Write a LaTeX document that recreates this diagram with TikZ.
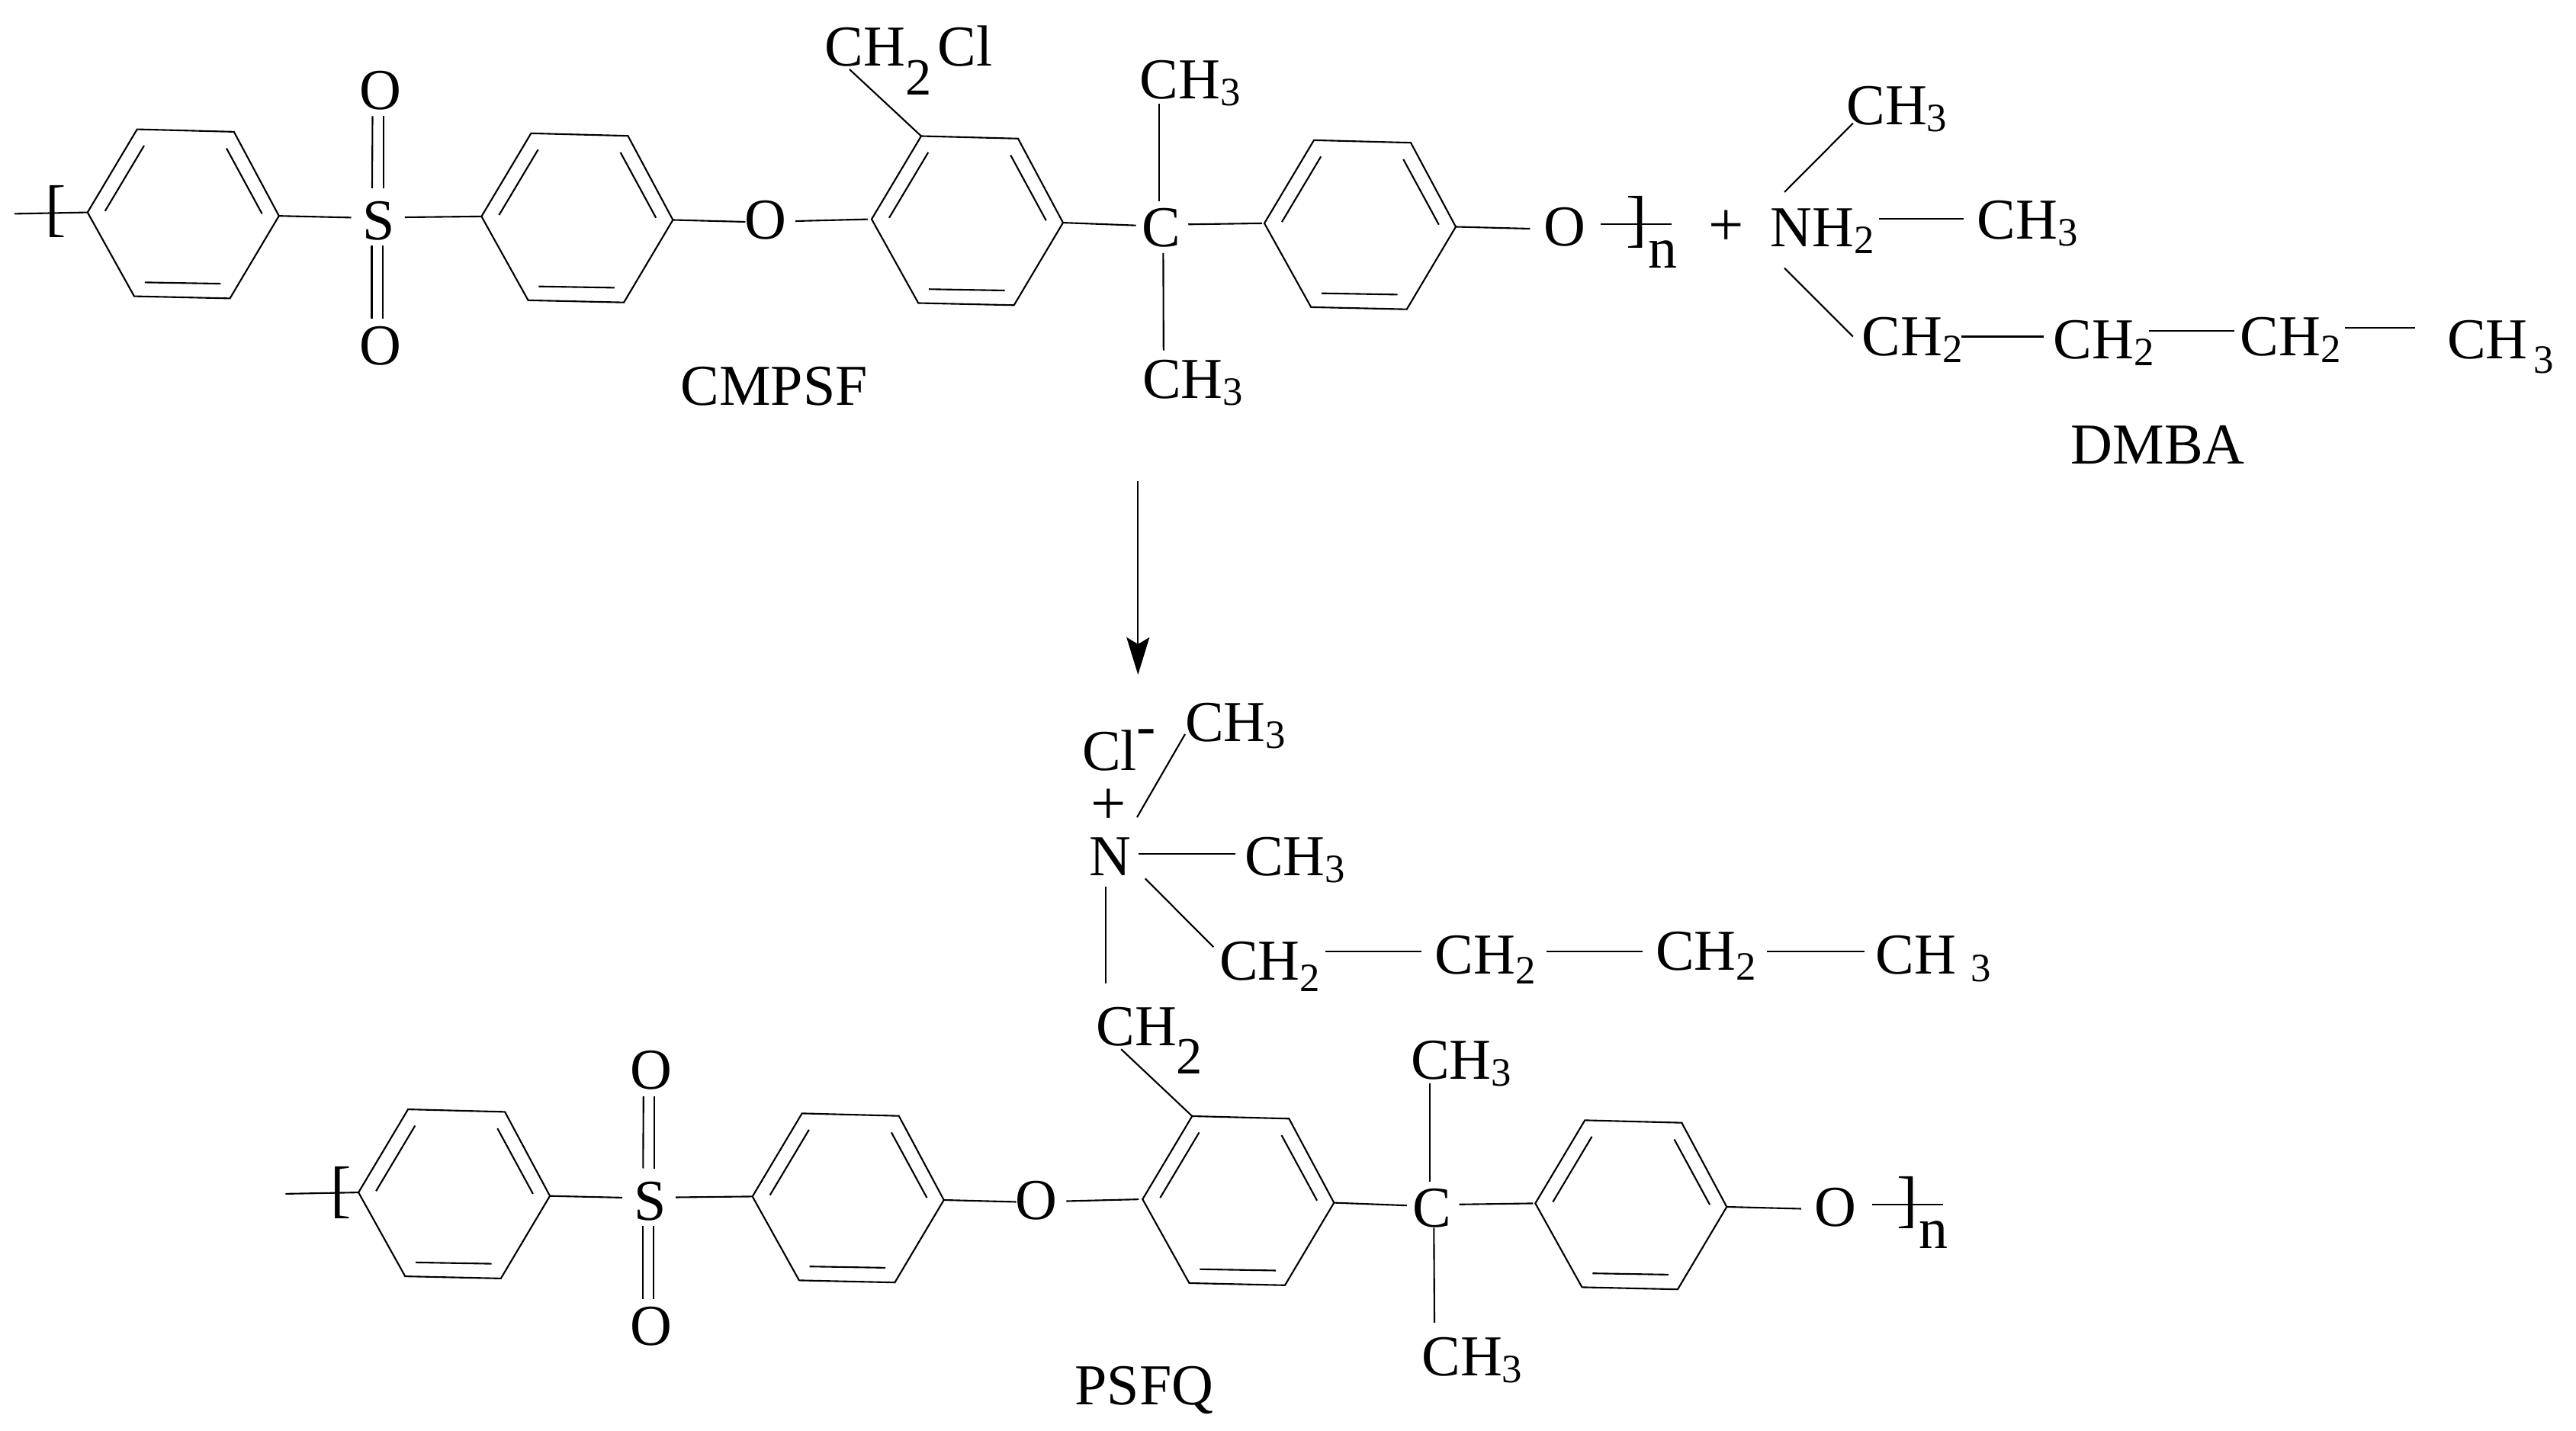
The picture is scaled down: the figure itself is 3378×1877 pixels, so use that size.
\documentclass[tikz,border=0pt]{standalone}
\usepackage{fontspec}
\setmainfont{Liberation Serif}
\usetikzlibrary{arrows.meta}

\tikzset{
  bond/.style={line width=0.6pt},
  atom/.style={inner sep=0pt,anchor=base,font=\fontsize{21.6}{26}\selectfont},
  group/.style={atom,anchor=base west},
  fence/.style={atom,font=\fontsize{23.4}{28}\selectfont},
}
\newcommand{\sbs}[2][-0.09cm]{\raisebox{#1}{\fontsize{15}{15}\selectfont #2}}
\newcommand{\sbl}[2][-0.38cm]{\raisebox{#1}{\fontsize{19.5}{20}\selectfont #2}}

\newcommand{\benzene}[3]{
\begin{scope}[shift={(#2,#3)}]
\coordinate (#1-w) at (0,0);
\coordinate (#1-nw) at (65,-109);
\coordinate (#1-ne) at (192,-105.7);
\coordinate (#1-e) at (251,4.6);
\coordinate (#1-se) at (186.7,112.8);
\coordinate (#1-sw) at (61.2,110);
\draw[bond] (#1-w)--(#1-nw)--(#1-ne)--(#1-e)--(#1-se)--(#1-sw)--cycle;
\draw[bond] (23,-1.8)--(74.2,-87.6);
\draw[bond] (182.2,-84)--(228.8,1.8);
\draw[bond] (75,91.8)--(174.5,93.5);
\end{scope}
}

\begin{document}
\begin{tikzpicture}[x=0.01cm,y=-0.01cm]
\useasboundingbox (0,0) rectangle (3378,1877);

% the two polymer backbones
\foreach \pre/\sx/\sy in {t/0/0,b/355.3/1285.5}{
\begin{scope}[shift={(\sx,\sy)}]
\benzene{\pre-a}{114.8}{278.6}
\benzene{\pre-b}{631.4}{283.9}
\benzene{\pre-c}{1143}{287.5}
\benzene{\pre-d}{1658}{292.9}

\coordinate (\pre-lead) at (19,280.4);

\node[atom] (\pre-S) at (497,315) {S};
\node[atom] (\pre-Oa) at (498.5,143.5) {O};
\node[atom] (\pre-Ob) at (498.5,479) {O};
\node[atom] (\pre-Oc) at (1004,314) {O};
\node[atom] (\pre-C) at (1523,324) {C};
\node[atom] (\pre-Od) at (2051.6,323) {O};
\node[fence] (\pre-rb) at (2146,315) {]};
\node[atom] (\pre-n) at (2180,352) {n};
\node[group] (\pre-Mu) at (1494,130) {CH\sbs{3}};

\draw[bond] (\pre-lead)--(\pre-a-w);
\draw[bond] (\pre-a-e)--([shift={(-14.5,-29.6)}]\pre-S.base west);
\draw[bond] ([shift={(12,-30)}]\pre-S.base east)--(\pre-b-w);
\draw[bond] (\pre-b-e)--([shift={(1.5,-23)}]\pre-Oc.base west);
\draw[bond,shorten >=0.05cm] ([shift={(11,-24)}]\pre-Oc.base east)--(\pre-c-w);
\draw[bond] (\pre-c-e)--([shift={(-7.3,-28.3)}]\pre-C.base west);
\draw[bond,shorten >=0.03cm] ([shift={(9.2,-29.7)}]\pre-C.base east)--(\pre-d-w);
\draw[bond] (\pre-d-e)--([shift={(-17,-23)}]\pre-Od.base west);
\draw[bond] ([shift={(19.7,-28.7)}]\pre-Od.base east)--([shift={(32,-20.7)}]\pre-rb.base east);

\draw[bond] ([shift={(-10,9)}]\pre-Oa.base)--([shift={(-9,-68)}]\pre-S.base);
\draw[bond] ([shift={(4.5,9)}]\pre-Oa.base)--([shift={(6,-68)}]\pre-S.base);
\draw[bond] ([shift={(-9.5,7.5)}]\pre-S.base)--([shift={(-11,-60.5)}]\pre-Ob.base);
\draw[bond] ([shift={(5,7.5)}]\pre-S.base)--([shift={(3.5,-60.5)}]\pre-Ob.base);

\draw[bond] ([shift={(-3,-60)}]\pre-C.base)--([shift={(26,6)}]\pre-Mu.base west);
\end{scope}
}

% top structure
\node[fence] (t-lb) at (73,301) {[};
\node[group] (t-Ml) at (1497.4,523) {CH\sbs{3}};
\node[group] (t-CCl) at (1081,86.5) {CH\sbl{2}\kern0.08cm Cl};
\node[group] (t-name) at (892,532) {CMPSF};
\node[fence] (plus) at (2264,323) {+};

\draw[bond] ([shift={(2.4,8)}]t-C.base)--([shift={(28.4,-63.4)}]t-Ml.base west);
\draw[bond] ([shift={(33,4.5)}]t-CCl.base west)--(t-c-nw);

% amine
\node[group] (dm-N) at (2321,323.6) {NH\sbs{2}};
\node[group] (dm-Ma) at (2420.7,163.5) {CH\sbs{3}};
\node[group] (dm-Mb) at (2592,314) {CH\sbs{3}};
\node[group] (dm-Ca) at (2440.8,467) {CH\sbs{2}};
\node[group] (dm-Cb) at (2692,471) {CH\sbs{2}};
\node[group] (dm-Cc) at (2937,467) {CH\sbs{2}};
\node[group] (dm-Me) at (3208.4,471) {CH\kern0.08cm\sbs[-0.19cm]{3}};
\node[group] (dm-name) at (2715,608.5) {DMBA};

\draw[bond] ([shift={(19,-71.6)}]dm-N.base west)--([shift={(9.2,-1.8)}]dm-Ma.base west);
\draw[bond] ([shift={(142.7,-36.3)}]dm-N.base west)--([shift={(-17,-26.7)}]dm-Mb.base west);
\draw[bond] ([shift={(19,28)}]dm-N.base west)--([shift={(-10.9,-25.5)}]dm-Ca.base west);
\draw[bond] ([shift={(130.8,-25.5)}]dm-Ca.base west)--([shift={(-11.8,-29.5)}]dm-Cb.base west);
\draw[bond] ([shift={(126.3,-36.8)}]dm-Cb.base west)--([shift={(-7.1,-32.8)}]dm-Cc.base west);
\draw[bond] ([shift={(138.2,-36.6)}]dm-Cc.base west)--([shift={(-41.1,-40.6)}]dm-Me.base west);

% reaction arrow
\coordinate (arrow-s) at (1492.3,631);
\coordinate (arrow-e) at (1492.3,885);
\draw[bond,-{Stealth[length=0.49cm,width=0.30cm,inset=0.09cm]}] (arrow-s)--(arrow-e);

% product
\node[fence] (b-lb) at (447.3,1587) {[};
\node[group] (b-Ml) at (1863.7,1804.5) {CH\sbs{3}};
\node[group] (b-name) at (1409,1842) {PSFQ};
\node[group] (pq-Cl) at (1418.5,1011) {Cl\raisebox{0.33cm}{-}};
\node[fence] (pq-plus) at (1453.5,1082) {+};
\node[atom] (pq-N) at (1455.8,1149) {N};
\node[group] (pq-Ma) at (1553.6,973) {CH\sbs{3}};
\node[group] (pq-Mb) at (1631.6,1149) {CH\sbs{3}};
\node[group] (pq-Ca) at (1598.4,1286) {CH\sbs[-0.14cm]{2}};
\node[group] (pq-Cb) at (1881,1278) {CH\sbs[-0.12cm]{2}};
\node[group] (pq-Cc) at (2170.6,1273) {CH\sbs[-0.12cm]{2}};
\node[group] (pq-Me) at (2459,1278) {CH \sbs{3}};
\node[group] (pq-CH) at (1436.7,1372) {CH\sbl[-0.36cm]{2}};

\draw[bond] ([shift={(35.2,-77)}]pq-N.base)--([shift={(0.4,-10)}]pq-Ma.base west);
\draw[bond] ([shift={(36.8,-29.2)}]pq-N.base)--([shift={(-12.1,-29.2)}]pq-Mb.base west);
\draw[bond] ([shift={(45.9,3.3)}]pq-N.base)--([shift={(-7.1,-43.7)}]pq-Ca.base west);
\draw[bond] ([shift={(-5.5,14)}]pq-N.base)--([shift={(13.6,-82)}]pq-CH.base west);
\draw[bond] ([shift={(139.6,-38)}]pq-Ca.base west)--([shift={(-17,-30)}]pq-Cb.base west);
\draw[bond] ([shift={(147,-30)}]pq-Cb.base west)--([shift={(-16.3,-25)}]pq-Cc.base west);
\draw[bond] ([shift={(146.2,-25)}]pq-Cc.base west)--([shift={(-14.5,-30)}]pq-Me.base west);
\draw[bond] ([shift={(33.5,4.2)}]pq-CH.base west)--(b-c-nw);
\draw[bond] ([shift={(2,1)}]b-C.base)--([shift={(17.3,-69.6)}]b-Ml.base west);

\end{tikzpicture}
\end{document}
